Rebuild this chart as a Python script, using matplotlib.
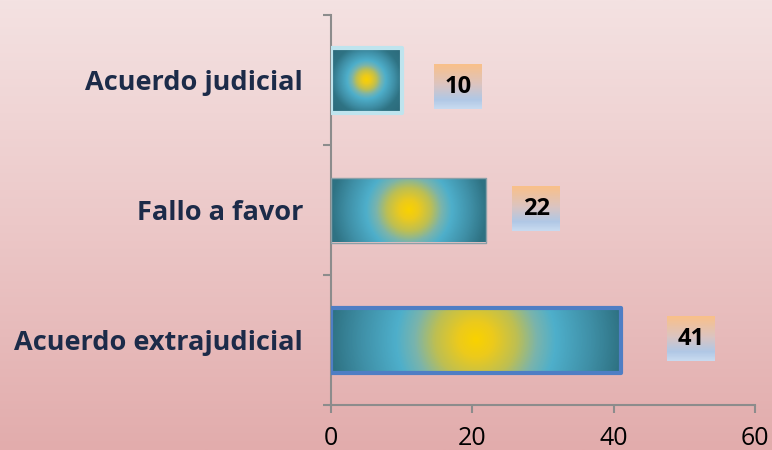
import numpy as np
import matplotlib
matplotlib.use('Agg')
import matplotlib.pyplot as plt
from matplotlib.colors import LinearSegmentedColormap
from matplotlib.offsetbox import OffsetImage, AnnotationBbox

#data, listed bottom to top
categories = ['Acuerdo extrajudicial', 'Fallo a favor', 'Acuerdo judicial']
values = [41, 22, 10]
x_ticks = [0, 20, 40, 60]

#styling per bar (bottom to top)
edge_colors = ['#4f7ec4', '#8aa0a8', '#bfe4ee']
edge_widths = [3.0, 1.0, 3.0]
label_offsets = [(70, 1), (50, 1), (56, -7)]  #pixels from bar end

fig = plt.figure(figsize=(7.72, 4.5), dpi=100)

#pink background gradient
bg = fig.add_axes([0, 0, 1, 1], zorder=-1)
bg_cmap = LinearSegmentedColormap.from_list('bg', ['#f4e2e2', '#ecc8c8', '#e2acac'])
bg.imshow(np.linspace(0, 1, 256).reshape(-1, 1), cmap=bg_cmap, aspect='auto', extent=[0, 1, 0, 1])
bg.axis('off')

ax = fig.add_axes([331 / 772, 45 / 450, 424 / 772, 390 / 450])
ax.set_facecolor('none')
ax.set_xlim(0, 60)
ax.set_ylim(-0.5, 2.5)

#radial gradient for the bars
bar_cmap = LinearSegmentedColormap.from_list('bar', [
    (0.0, '#f9d200'), (0.12 / 1.45, '#ecca1c'), (0.28 / 1.45, '#bebf52'),
    (0.42 / 1.45, '#7ab4ac'), (0.55 / 1.45, '#4eafcb'), (0.8 / 1.45, '#3f8fa6'),
    (1.0 / 1.45, '#2f7384'), (1.0, '#2a6575')])

pos = np.arange(len(categories))
bars = ax.barh(pos, values, height=0.5, color='none', zorder=3)
for i, (bar, v) in enumerate(zip(bars, values)):
    bar.set_edgecolor(edge_colors[i])
    bar.set_linewidth(edge_widths[i])
    bar.set_joinstyle('round')
    (px0, py0), (px1, py1) = ax.transData.transform([[0, i - 0.25], [v, i + 0.25]])
    w, h = px1 - px0, py1 - py0
    xs = np.linspace(-w / 2, w / 2, max(int(w), 2))
    ys = np.linspace(-h / 2, h / 2, max(int(h), 2))
    X, Y = np.meshgrid(xs, ys)
    r = np.hypot(X, Y) / (w / 2)
    img = bar_cmap(np.clip(r / 1.45, 0, 1))
    im = ax.imshow(img, extent=[0, v, i - 0.25, i + 0.25], origin='lower',
                   aspect='auto', zorder=2, interpolation='bilinear')
    im.set_clip_path(bar)

ax.set_xlim(0, 60)
ax.set_ylim(-0.5, 2.5)

#value labels in small gradient boxes
box_cmap = LinearSegmentedColormap.from_list('box', [
    (0.0, '#f9c08a'), (0.45, '#dcc4c0'), (0.8, '#b0c8e6'), (1.0, '#c8daef')])
box_img = box_cmap(np.linspace(0, 1, 45)).reshape(45, 1, 4).repeat(48, axis=1)
for i, v in enumerate(values):
    dx, dy = label_offsets[i]
    ab = AnnotationBbox(OffsetImage(box_img, zoom=1, dpi_cor=False), (v, i),
                        xybox=(dx, dy), boxcoords='offset pixels',
                        frameon=False, pad=0, zorder=4)
    ax.add_artist(ab)
    ax.annotate(str(v), (v, i), xytext=(dx, dy), textcoords='offset pixels',
                ha='center', va='center', fontsize=17, fontweight='bold',
                family='Open Sans', color='black', zorder=5)

#axes styling
for side in ['top', 'right']:
    ax.spines[side].set_visible(False)
for side in ['left', 'bottom']:
    ax.spines[side].set_color('#8c8c8c')
    ax.spines[side].set_linewidth(1.5)

ax.set_yticks(pos)
ax.set_yticklabels(categories, fontsize=19.5, fontweight='bold', family='Open Sans', color='#1c2b49')
ax.set_yticks(np.arange(-0.5, len(categories)), minor=True)
ax.tick_params(axis='y', which='major', length=0, pad=20)
ax.tick_params(axis='y', which='minor', length=6, width=1.5, color='#8c8c8c')

ax.set_xticks(x_ticks)
ax.tick_params(axis='x', length=6, width=1.5, color='#8c8c8c', labelsize=18, pad=9)
for lbl in ax.get_xticklabels():
    lbl.set_family('Open Sans')

fig.savefig('out.png', dpi=100)
